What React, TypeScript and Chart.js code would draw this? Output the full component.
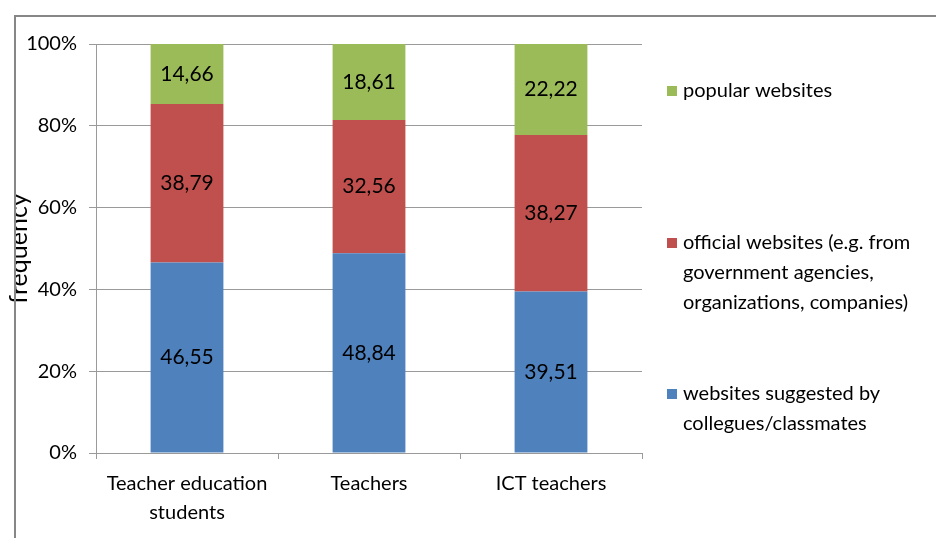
import React, { useEffect, useRef } from "react";
import { Chart, registerables } from "chart.js";

Chart.register(...registerables);

const categories: (string | string[])[] = [["Teacher education", "students"], "Teachers", "ICT teachers"];
const suggestedValues = [46.55, 48.84, 39.51];
const officialValues = [38.79, 32.56, 38.27];
const popularValues = [14.66, 18.61, 22.22];
const yTicks = [0, 20, 40, 60, 80, 100];

const seriesNames = ["websites suggested by collegues/classmates", "official websites (e.g. from government agencies, organizations, companies)", "popular websites"];
const legendLines = [
  ["popular websites"],
  ["official websites (e.g. from", "government agencies,", "organizations, companies)"],
  ["websites suggested by", "collegues/classmates"],
];

const FONT = "Lato, 'Noto Sans', sans-serif";
const BLUE = "#4F81BD";
const RED = "#C0504D";
const GREEN = "#9BBB59";

const fmt = (v: number) => v.toFixed(2).replace(".", ",");

const labelsPlugin = {
  id: "segLabels",
  afterDatasetsDraw(chart: any) {
    const ctx = chart.ctx;
    ctx.save();
    ctx.font = `21px ${FONT}`;
    ctx.fillStyle = "#000";
    ctx.textAlign = "center";
    ctx.textBaseline = "middle";
    chart.data.datasets.forEach((ds: any, di: number) => {
      const meta = chart.getDatasetMeta(di);
      meta.data.forEach((el: any, i: number) => {
        const cy = (el.y + el.base) / 2;
        ctx.fillText(fmt(ds.data[i]), el.x, cy);
      });
    });
    ctx.restore();
  },
};

const framePlugin = {
  id: "frameLegend",
  afterDraw(chart: any) {
    const ctx = chart.ctx;
    ctx.save();
    ctx.strokeStyle = "#878787";
    ctx.lineWidth = 2;
    ctx.beginPath();
    ctx.moveTo(15, chart.height);
    ctx.lineTo(15, 16);
    ctx.lineTo(chart.width, 16);
    ctx.stroke();

    const colors = [GREEN, RED, BLUE];
    const ys = [91, 243, 394];
    const lh = 30;
    ctx.font = `20px ${FONT}`;
    ctx.fillStyle = "#000";
    ctx.textBaseline = "middle";
    ctx.textAlign = "left";
    legendLines.forEach((lines, k) => {
      ctx.fillStyle = colors[k];
      ctx.fillRect(667, ys[k] - 5, 10, 10);
      ctx.fillStyle = "#000";
      lines.forEach((t, j) => ctx.fillText(t, 683, ys[k] + j * lh));
    });
    ctx.restore();
  },
};

export default function App() {
  const ref = useRef<HTMLCanvasElement>(null);
  useEffect(() => {
    const chart = new Chart(ref.current!, {
      type: "bar",
      data: {
        labels: categories,
        datasets: [
          { label: seriesNames[0], data: suggestedValues, backgroundColor: BLUE },
          { label: seriesNames[1], data: officialValues, backgroundColor: RED },
          { label: seriesNames[2], data: popularValues, backgroundColor: GREEN },
        ],
      },
      options: {
        responsive: false,
        animation: false,
        events: [],
        layout: { padding: { left: 0, top: 44, right: 294, bottom: 0 } },
        datasets: { bar: { barPercentage: 0.4, categoryPercentage: 1 } },
        plugins: { legend: { display: false }, tooltip: { enabled: false } },
        scales: {
          x: {
            stacked: true,
            grid: { display: true, drawOnChartArea: false, drawTicks: true, tickLength: 6, color: "#9a9a9a", offset: true },
            border: { display: true, color: "#9a9a9a", width: 1 },
            ticks: { color: "#000", font: { family: FONT, size: 20, lineHeight: 1.45 }, padding: 10, maxRotation: 0 },
            afterFit: (s: any) => { s.height = 85; },
          },
          y: {
            stacked: true,
            min: 0,
            max: 100,
            afterBuildTicks: (s: any) => { s.ticks = yTicks.map((v) => ({ value: v })); },
            grid: { color: "#9a9a9a", tickLength: 7, drawTicks: true },
            border: { display: true, color: "#9a9a9a", width: 1 },
            ticks: { color: "#000", font: { family: FONT, size: 20 }, padding: 12, callback: (v: any) => v + "%" },
            title: { display: true, text: "frequency", color: "#000", font: { family: FONT, size: 25, lineHeight: 1.2 }, padding: { top: 4, bottom: 0 } },
            afterFit: (s: any) => { s.width = 96; },
          },
        },
      },
      plugins: [labelsPlugin, framePlugin],
    });
    return () => chart.destroy();
  }, []);
  return (
    <div style={{ position: "absolute", left: 0, top: 0, width: 936, height: 538 }}>
      <canvas ref={ref} width={936} height={538} style={{ display: "block" }} />
    </div>
  );
}
